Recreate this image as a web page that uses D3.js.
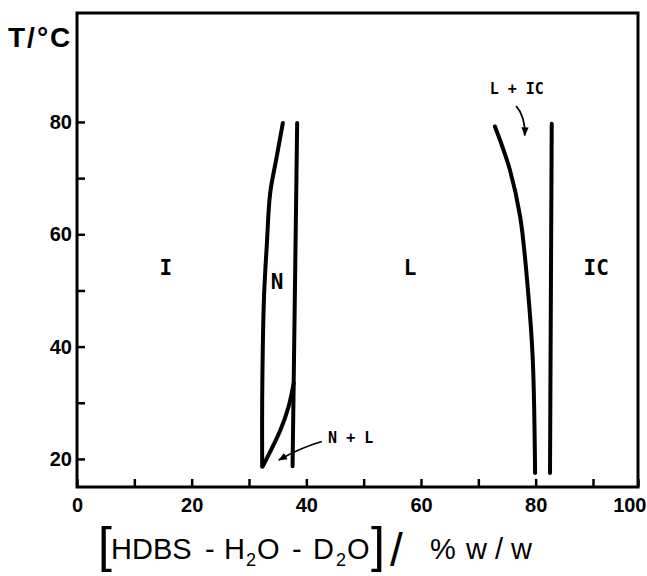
<!DOCTYPE html>
<html>
<head>
<meta charset="utf-8">
<script src="https://cdn.jsdelivr.net/npm/d3@7"></script>
<style>
body { margin:0; background:#fff; }
text { font-family:"Liberation Sans", Arial, sans-serif; fill:#000; }
</style>
</head>
<body>
<svg id="chart" width="647" height="576"></svg>
<script>
// axis ticks
var xTicks = [0,10,20,30,40,50,60,70,80,90,100];
var yTicks = [20,30,40,50,60,70,80];

// phase boundaries as [% w/w, T/°C]
var nLeft = [[35.9,79.8],[34.8,73.6],[33.7,67.4],[33.1,58],[32.6,48.3],[32.3,30.5],[32.3,18.6]];
var nRight = [[38.4,79.8],[37.6,18.7]];
var nlCurve = [[32.4,18.7],[35.5,25.2],[36.9,29.3],[37.8,33.5]];
var licCurve = [[72.9,79.2],[75.5,71.5],[77.3,63.1],[78.7,49.5],[79.5,37.6],[79.9,17.5]];
var icLine = [[82.8,79.7],[82.5,17.5]];

// phase names and where they sit (% w/w, T)
var regionNames = ["I","N","L","IC"];
var regionAt = [[15.5,54],[34.9,51.5],[58.1,54],[90.7,54]];

var svg = d3.select("#chart");

// the hand drawn axis is squeezed a little in the last decade
var x = d3.scaleLinear().domain([0,90,100]).range([77,593,638]);
var y = d3.scaleLinear().domain([15,99.4]).range([487,13]);

svg.append("defs").append("marker")
    .attr("id","head")
    .attr("viewBox","0 0 10 10")
    .attr("refX",9).attr("refY",5)
    .attr("markerWidth",9).attr("markerHeight",9)
    .attr("markerUnits","userSpaceOnUse")
    .attr("orient","auto")
  .append("path")
    .attr("d","M0,1 L10,5 L0,9 Z")
    .attr("fill","#000");

// frame
svg.append("rect")
    .attr("x",x(0)).attr("y",y(99.4))
    .attr("width",x(100)-x(0)).attr("height",y(15)-y(99.4))
    .attr("fill","none").attr("stroke","#000").attr("stroke-width",3);

var xAxis = svg.append("g")
    .attr("transform","translate(0," + y(15) + ")")
    .call(d3.axisBottom(x).tickValues(xTicks).tickSize(-8).tickPadding(11)
        .tickFormat(function(d){ return d % 20 === 0 ? d : ""; }));

var yAxis = svg.append("g")
    .attr("transform","translate(" + x(0) + ",0)")
    .call(d3.axisLeft(y).tickValues(yTicks).tickSize(-8).tickPadding(5)
        .tickFormat(function(d){ return d % 20 === 0 ? d : ""; }));

[xAxis, yAxis].forEach(function(a){
  a.select(".domain").remove();
  a.selectAll(".tick line").attr("stroke","#000").attr("stroke-width",2.5);
  a.selectAll(".tick text")
    .style("font-family","'Liberation Sans', Arial, sans-serif")
    .style("font-size","20px").style("font-weight","bold").attr("fill","#000");
});
// last label runs to the page edge
xAxis.selectAll(".tick text").filter(function(d){ return d === 100; })
    .attr("text-anchor","end").attr("x",8);

var line = d3.line()
    .x(function(d){ return x(d[0]); })
    .y(function(d){ return y(d[1]); })
    .curve(d3.curveCatmullRom);

[nLeft, nRight, nlCurve, licCurve, icLine].forEach(function(pts){
  svg.append("path")
      .attr("d", line(pts))
      .attr("fill","none")
      .attr("stroke","#000")
      .attr("stroke-width",4)
      .attr("stroke-linecap","round");
});

// region labels
svg.selectAll(".region")
    .data(regionNames)
  .enter().append("text")
    .attr("class","region")
    .attr("x", function(d,i){ return x(regionAt[i][0]); })
    .attr("y", function(d,i){ return y(regionAt[i][1]); })
    .attr("text-anchor","middle")
    .attr("dy","0.35em")
    .style("font-family","'DejaVu Sans Mono', monospace")
    .style("font-size","21px")
    .style("font-weight","bold")
    .text(function(d){ return d; });

// N + L note with arrow
svg.append("text")
    .attr("x", x(43.8)).attr("y", y(23.7))
    .attr("dy","0.35em")
    .style("font-family","'DejaVu Sans Mono', monospace")
    .style("font-size","15px").style("font-weight","bold")
    .text("N + L");
svg.append("path")
    .attr("d", "M" + x(42.7) + "," + y(23.1) + " Q" + x(39) + "," + y(22) + " " + x(35.2) + "," + y(19.8))
    .attr("fill","none").attr("stroke","#000").attr("stroke-width",1.8)
    .attr("marker-end","url(#head)");

// L + IC note with arrow
svg.append("text")
    .attr("x", x(76.7)).attr("y", y(86))
    .attr("dy","0.35em")
    .attr("text-anchor","middle")
    .style("font-family","'DejaVu Sans Mono', monospace")
    .style("font-size","15px").style("font-weight","bold")
    .text("L + IC");
svg.append("path")
    .attr("d", "M" + x(76.6) + "," + y(82.8) + " Q" + x(78.2) + "," + y(81) + " " + x(78.1) + "," + y(77.6))
    .attr("fill","none").attr("stroke","#000").attr("stroke-width",1.8)
    .attr("marker-end","url(#head)");

// y axis title
svg.append("text")
    .attr("x",8).attr("y",47)
    .style("font-size","28px").style("font-weight","bold")
    .style("letter-spacing","2px")
    .text("T/°C");

// x axis title
var title = svg.append("text").attr("y",559).style("font-size","29px");
title.append("tspan").attr("x",98).attr("y",562).style("font-size","50px").text("[");
title.append("tspan").attr("x",111).attr("y",559).text("HDBS");
title.append("tspan").attr("x",205).text("-");
title.append("tspan").attr("x",224).text("H");
title.append("tspan").attr("x",246).attr("y",566).style("font-size","18px").text("2");
title.append("tspan").attr("x",257).attr("y",559).text("O");
title.append("tspan").attr("x",292).text("-");
title.append("tspan").attr("x",313).text("D");
title.append("tspan").attr("x",336).attr("y",566).style("font-size","18px").text("2");
title.append("tspan").attr("x",347).attr("y",559).text("O");
title.append("tspan").attr("x",371).attr("y",562).style("font-size","50px").text("]");
title.append("tspan").attr("x",390).attr("y",566).style("font-size","46px").text("/");
title.append("tspan").attr("x",430).attr("y",559).text("%");
title.append("tspan").attr("x",466).text("w / w");
</script>
</body>
</html>
